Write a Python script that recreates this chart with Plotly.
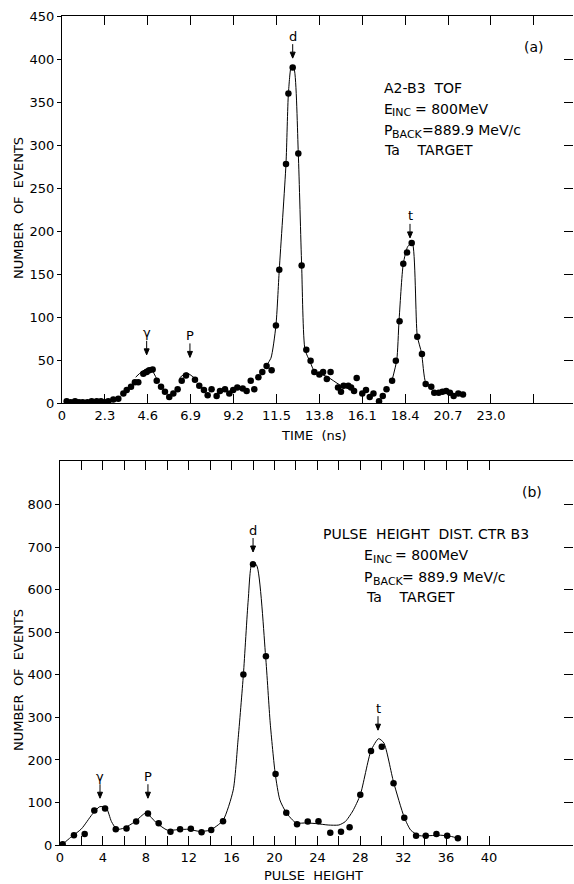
import plotly.graph_objects as go

# ---------------- Panel (a): TOF spectrum ----------------
a_time = [0.25, 0.47, 0.70, 0.91, 1.11, 1.36, 1.59, 1.86, 2.09, 2.30,
          2.48, 2.75, 3.02, 3.29, 3.47, 3.70, 3.91, 4.09, 4.36, 4.54,
          4.68, 4.86, 5.08, 5.31, 5.52, 5.75, 5.97, 6.20, 6.42, 6.65,
          7.13, 7.36, 7.61, 7.81, 8.02, 8.29, 8.47, 8.74, 8.97, 9.18,
          9.40, 9.69, 9.90, 10.12, 10.31, 10.53, 10.74, 10.97, 11.24, 11.47,
          11.65, 12.01, 12.14, 12.37, 12.67, 12.85, 13.10, 13.33, 13.53, 13.80,
          14.00, 14.20, 14.40, 14.80, 14.96, 15.10, 15.35, 15.50, 15.66, 15.80,
          16.10, 16.30, 16.50, 16.70, 17.00, 17.20, 17.40, 17.70, 17.90, 18.10,
          18.30, 18.50, 18.75, 19.05, 19.30, 19.50, 19.80, 19.96, 20.20, 20.40,
          20.60, 20.80, 21.00, 21.25, 21.50]
a_counts = [2, 1, 2, 1, 1, 1, 2, 2, 2, 1,
            2, 4, 5, 11, 15, 19, 24, 24, 34, 36,
            38, 39, 26, 19, 13, 7, 11, 16, 26, 32,
            27, 20, 15, 9, 16, 8, 14, 16, 11, 15,
            18, 17, 14, 26, 16, 30, 36, 43, 38, 90,
            155, 278, 360, 390, 290, 160, 62, 49, 36, 33,
            36, 28, 36, 18, 13, 20, 20, 18, 14, 29,
            11, 15, 7, 11, 2, 8, 16, 26, 49, 95,
            162, 175, 186, 77, 57, 22, 19, 12, 12, 13,
            14, 12, 8, 11, 10]

# hand-drawn guide curve of panel (a) (None separates pieces)
a_curve_t = [3.95, 4.25, 4.57, 4.85, 5.10, None,
             6.30, 6.68, 7.22, None,
             10.90, 11.20, 11.47, 11.65, 12.01, 12.14, 12.30, 12.45, 12.67, 12.85,
             13.03, 13.30, 13.56, 14.19, 14.90, 15.80, None,
             17.68, 17.95, 18.07, 18.30, 18.54, 18.78, 19.05, 19.28, 19.50, 19.80]
a_curve_y = [30, 36, 40, 37, 27, None,
             29, 35, 27, None,
             42, 52, 90, 155, 278, 360, 392, 388, 290, 160,
             62, 48, 36, 31, 21, 13, None,
             25, 50, 95, 162, 182, 186, 78, 58, 24, 19]

a_tickvals = [0, 2.3, 4.6, 6.9, 9.2, 11.5, 13.8, 16.1, 18.4, 20.7, 23.0]
a_ticktext = ["0", "2.3", "4.6", "6.9", "9.2", "11.5", "13.8", "16.1", "18.4", "20.7", "23.0"]
a_minorvals = [25.3]
a_ytickvals = [0, 50, 100, 150, 200, 250, 300, 350, 400, 450]

# peak markers of panel (a): label, position, height of arrow tip
a_peak_label = ["γ", "P", "d", "t"]
a_peak_x = [4.54, 6.86, 12.37, 18.66]
a_peak_y = [56, 53, 401, 192]

# ---------------- Panel (b): pulse height ----------------
b_pulse = [0.25, 1.3, 2.3, 3.2, 4.2, 5.2, 6.2, 7.1, 8.2, 9.2,
           10.3, 11.2, 12.2, 13.2, 14.1, 15.2, 17.1, 18.0, 19.2, 20.1,
           21.1, 22.1, 23.1, 24.1, 25.2, 26.2, 27.0, 28.0, 29.0, 30.0,
           31.1, 32.1, 33.2, 34.1, 35.1, 36.1, 37.1]
b_counts = [2, 23, 26, 81, 86, 37, 39, 55, 74, 51,
            31, 37, 38, 30, 35, 56, 401, 660, 444, 167,
            76, 49, 55, 56, 29, 31, 42, 118, 221, 231,
            145, 64, 22, 22, 26, 22, 16]

b_curve_x = [0.25, 1.0, 2.0, 3.0, 3.7, 4.3, 4.8, 5.3, 6.0, 7.0, 8.0, 9.0, 10.0,
             11.0, 12.0, 13.0, 14.0, 15.2, 16.15, 16.6, 17.1, 17.55, 17.9, 18.33,
             19.17, 19.6, 20.07, 20.5, 21.1, 22.0, 23.0, 24.0, 25.0, 26.0, 26.6,
             27.3, 28.0, 29.0, 29.7, 30.2, 31.1, 32.1, 32.7, 33.5, 34.5, 35.5, 36.5, 37.1]
b_curve_y = [2, 18, 38, 72, 90, 88, 55, 37, 40, 55, 75, 52, 35,
             36, 37, 32, 35, 58, 129, 247, 401, 576, 662, 658,
             444, 287, 167, 106, 76, 52, 52, 50, 47, 47, 55,
             80, 118, 222, 250, 240, 148, 65, 35, 22, 22, 23, 20, 16]

b_tickvals = [0, 4, 8, 12, 16, 20, 24, 28, 32, 36, 40]
b_ticktext = [str(v) for v in b_tickvals]
b_minorvals = [2, 6, 10, 14, 18, 22, 26, 30, 34, 38]
b_ytickvals = [0, 100, 200, 300, 400, 500, 600, 700, 800]
b_yticktext = [str(v) for v in b_ytickvals]

b_peak_label = ["γ", "P", "d", "t"]
b_peak_x = [3.73, 8.2, 18.0, 29.65]
b_peak_y = [110, 110, 689, 270]

W, H = 574, 884
FONT = "DejaVu Sans"
RIGHT = 573

def px(x):
    return x / W

def py(y):
    return 1 - y / H

fig = go.Figure()

mk = dict(color="black", size=6.5)
ln = dict(color="black", width=1, shape="spline", smoothing=0.6)

fig.add_trace(go.Scatter(x=a_curve_t, y=a_curve_y, mode="lines", line=ln,
                         connectgaps=False, xaxis="x", yaxis="y", showlegend=False))
fig.add_trace(go.Scatter(x=a_time, y=a_counts, mode="markers", marker=mk,
                         xaxis="x", yaxis="y", showlegend=False))
fig.add_trace(go.Scatter(x=b_curve_x, y=b_curve_y, mode="lines", line=ln,
                         xaxis="x2", yaxis="y2", showlegend=False))
fig.add_trace(go.Scatter(x=b_pulse, y=b_counts, mode="markers", marker=mk,
                         xaxis="x2", yaxis="y2", showlegend=False))
# carriers for the right-hand tick axes
fig.add_trace(go.Scatter(x=[None], y=[None], xaxis="x", yaxis="y3", showlegend=False))
fig.add_trace(go.Scatter(x=[None], y=[None], xaxis="x2", yaxis="y4", showlegend=False))

tickfont = dict(family=FONT, size=13, color="black")

xa_common = dict(showgrid=False, zeroline=False, showline=True, linecolor="black",
                 linewidth=1, mirror="ticks", ticks="inside", ticklen=9,
                 tickcolor="black", tickwidth=1, tickmode="array", tickfont=tickfont,
                 ticklabelstandoff=0, automargin=False)
ya_common = dict(showgrid=False, zeroline=False, showline=True, linecolor="black",
                 linewidth=1, mirror=False, ticks="outside", ticklen=4,
                 tickcolor="black", tickwidth=1, tickmode="array", tickfont=tickfont,
                 automargin=False)
yr_common = dict(showgrid=False, zeroline=False, showline=False, ticks="inside",
                 ticklen=9, tickcolor="black", tickwidth=1, tickmode="array",
                 showticklabels=False, side="right", automargin=False)
minor_common = dict(ticks="inside", ticklen=9, tickcolor="black", tickwidth=1, showgrid=False)

a_xmax = (RIGHT - 62) / 18.65
b_xmax = (RIGHT - 60) / 10.725

fig.update_layout(
    template="none",
    width=W, height=H, autosize=False,
    margin=dict(l=0, r=0, t=0, b=0, pad=0, autoexpand=False),
    paper_bgcolor="white", plot_bgcolor="white",
    font=dict(family=FONT, color="black"),
    showlegend=False,
    xaxis=dict(domain=[px(62), px(RIGHT)], range=[0, a_xmax], anchor="y",
               tickvals=a_tickvals, ticktext=a_ticktext,
               minor=dict(tickvals=a_minorvals, **minor_common), **xa_common),
    yaxis=dict(domain=[py(403), py(16)], range=[0, 450], anchor="x",
               tickvals=a_ytickvals, ticktext=[str(v) for v in a_ytickvals], **ya_common),
    yaxis3=dict(overlaying="y", anchor="x", range=[0, 450], tickvals=a_ytickvals, **yr_common),
    xaxis2=dict(domain=[px(60), px(RIGHT)], range=[0, b_xmax], anchor="y2",
                tickvals=b_tickvals, ticktext=b_ticktext,
                minor=dict(tickvals=b_minorvals, **minor_common), **xa_common),
    yaxis2=dict(domain=[py(845), py(461)], range=[0, 903], anchor="x2",
                tickvals=b_ytickvals, ticktext=b_yticktext, **ya_common),
    yaxis4=dict(overlaying="y2", anchor="x2", range=[0, 903], tickvals=b_ytickvals, **yr_common),
)

anns = []
shapes = []

def label(text, x, y, xanchor="left", size=14, angle=0):
    anns.append(dict(text=text, x=px(x), y=py(y), xref="paper", yref="paper",
                     xanchor=xanchor, yanchor="middle", showarrow=False,
                     textangle=angle, borderpad=0,
                     font=dict(family=FONT, size=size, color="black")))

def sub_line(x_main, x_sub, x_rest, y, main, sub, rest):
    label(main, x_main, y)
    label(sub, x_sub, y + 4, size=11)
    label(rest, x_rest, y)

# panel (a) texts
label("(a)", 534, 47, "center")
label("A2-B3  TOF", 383, 88)
sub_line(383, 391, 414, 109, "E", "INC", "= 800MeV")
sub_line(383, 391, 421, 130, "P", "BACK", "=889.9 MeV/c")
label("Ta    TARGET", 383, 150)
label("TIME  (ns)", 314, 435, "center", size=13)
label("NUMBER  OF  EVENTS", 18, 208, "center", size=13, angle=-90)

# panel (b) texts
label("(b)", 532, 492, "center")
label("PULSE  HEIGHT  DIST. CTR B3", 322, 534)
sub_line(363, 372, 394, 555, "E", "INC", "= 800MeV")
sub_line(363, 372, 401, 577, "P", "BACK", "= 889.9 MeV/c")
label("Ta    TARGET", 365, 597)
label("PULSE  HEIGHT", 314, 875, "center", size=13)
label("NUMBER  OF  EVENTS", 18, 680, "center", size=13, angle=-90)

def peak_marks(labels, xs, ys, xr, yr):
    for t, x, y in zip(labels, xs, ys):
        # arrow: stem + small filled head, sized in pixels, anchored at the tip
        shapes.append(dict(type="path", xref=xr, yref=yr, xsizemode="pixel",
                           ysizemode="pixel", xanchor=x, yanchor=y,
                           path="M0,0 L-2.5,6 L2.5,6 Z M0,6 L0,14",
                           fillcolor="black", line=dict(color="black", width=1)))
        anns.append(dict(text=t, x=x, y=y, xref=xr, yref=yr, showarrow=False,
                         yshift=22, xanchor="center", yanchor="middle",
                         font=dict(family=FONT, size=13, color="black")))

peak_marks(a_peak_label, a_peak_x, a_peak_y, "x", "y")
peak_marks(b_peak_label, b_peak_x, b_peak_y, "x2", "y2")

fig.update_layout(annotations=anns, shapes=shapes)

fig.write_html("out.html",
               config={"displayModeBar": False},
               post_script="document.body.style.margin='0';document.body.style.padding='0';")
